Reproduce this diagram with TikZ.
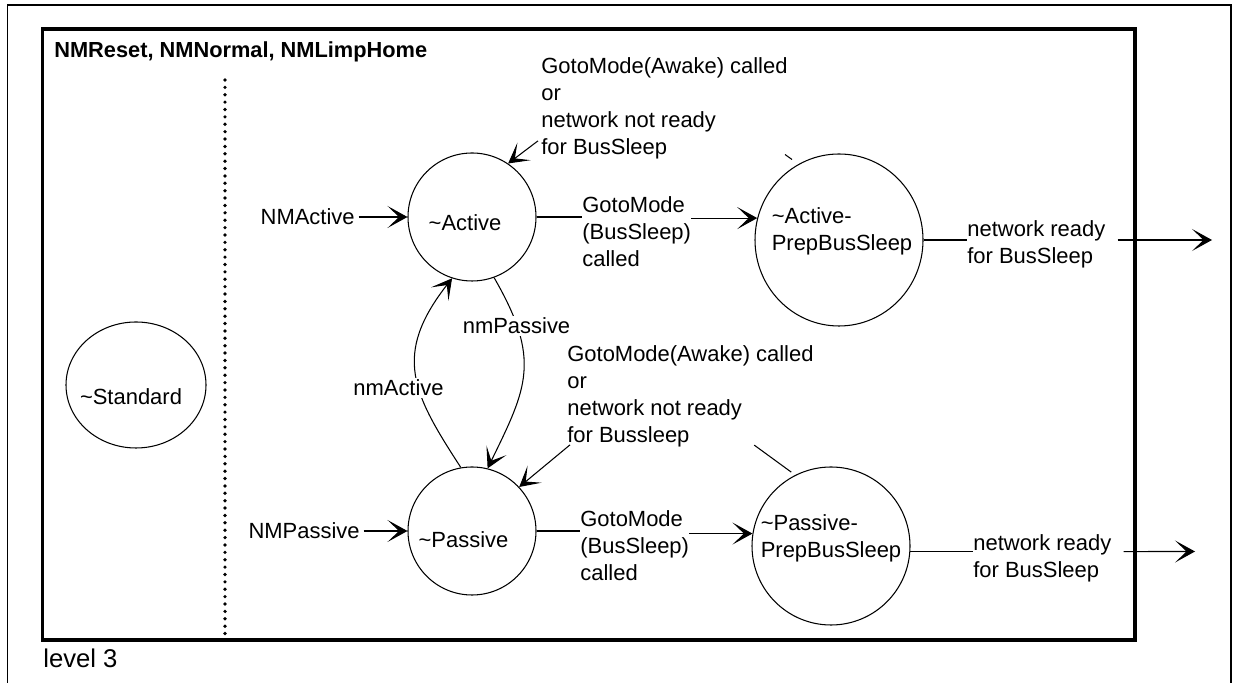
\documentclass[tikz,border=0pt]{standalone}
\usepackage{fontspec}
\setmainfont{Liberation Sans}
\usetikzlibrary{arrows.meta,positioning,calc,shapes.geometric}

\begin{document}
\begin{tikzpicture}[
  x=1cm,
  y=1cm,
  font=\fontsize{12.5}{15.4}\selectfont,
  >={Stealth[length=4mm,width=4.4mm,inset=2.3mm]},
  flow/.style={->, line width=0.6pt, draw=black},
  link/.style={line width=0.6pt, draw=black},
  state/.style={draw=black, line width=0.6pt, circle, inner sep=0pt, minimum size=25.6mm},
  prep/.style={draw=black, line width=0.6pt, ellipse, inner sep=0pt},
  cond/.style={anchor=north west, inner sep=0pt, align=left},
  entry/.style={anchor=east, inner sep=2pt},
  tag/.style={fill=white, inner sep=1pt},
  frame/.style={line width=2.1pt, draw=black}
]
\useasboundingbox (0,0) rectangle (24.66,13.66);

% frames and separator
\draw[line width=1.1pt] (0.15,0) |- (24.62,13.56) -- (24.62,0);
\draw[frame] (0.85,0.86) rectangle (22.70,13.08);
\draw[line width=2.1pt, line cap=round, dash pattern=on 0pt off 4.2pt] (4.50,12.06) -- (4.50,0.86);

\node[font=\fontsize{12.4}{14}\selectfont\bfseries, anchor=west, inner sep=0pt] (title)
  at (1.08,12.62) {NMReset, NMNormal, NMLimpHome};
\node[font=\fontsize{14.6}{17}\selectfont, anchor=west, inner sep=0pt] (level)
  at (0.86,0.50) {level 3};

% states
\node[prep, minimum width=28mm, minimum height=25.2mm,
  label={[xshift=-1mm, yshift=-2.4mm]center:\textasciitilde Standard}] (standard) at (2.72,5.96) {};
\node[state, label={[xshift=-1.4mm, yshift=-1.2mm]center:\textasciitilde Active}] (active) at (9.44,9.32) {};
\node[state, label={[xshift=-1.7mm, yshift=-1.8mm]center:\textasciitilde Passive}] (passive) at (9.44,3.04) {};
\node[prep, minimum width=33.6mm, minimum height=34.4mm,
  label={[align=left, xshift=0.6mm, yshift=1.8mm]center:{\textasciitilde Active-\\PrepBusSleep}}] (actprep) at (16.78,8.86) {};
\node[prep, minimum width=31.6mm, minimum height=31.6mm,
  label={[align=left, yshift=1.6mm]center:{\textasciitilde Passive-\\PrepBusSleep}}] (pasprep) at (16.62,2.74) {};

% conditions
\node[entry] (nmactive) at (7.17,9.32) {NMActive};
\node[entry] (nmpassive) at (7.27,3.04) {NMPassive};
\node[cond] (awakeA) at (10.82,12.52)
  {GotoMode(Awake) called\\or\\network not ready\\for BusSleep};
\node[cond] (awakeB) at (11.34,6.76)
  {GotoMode(Awake) called\\or\\network not ready\\for Bussleep};
\node[cond] (gmA) at (11.64,9.74) {GotoMode\\(BusSleep)\\called};
\node[cond] (gmB) at (11.60,3.46) {GotoMode\\(BusSleep)\\called};
\node[cond] (nrA) at (19.34,9.26) {network ready\\for BusSleep};
\node[cond] (nrB) at (19.46,2.98) {network ready\\for BusSleep};
\coordinate (exitA) at (24.24,8.86);
\coordinate (exitB) at (23.90,2.63);

% transitions
\draw[flow] (nmactive.east) -- (active.west);
\draw[flow] (nmpassive.east) -- (passive.west);
\draw[flow] ($(awakeA.south west)+(-0.06,0.37)$) -- (active.56);
\draw[flow] ($(awakeB.south west)+(0.06,0.05)$) -- (passive.43);
\draw[link] (active.east) -- (gmA.west |- active.east);
\draw[flow] (gmA.east |- actprep.165) -- (actprep.165);
\draw[link] (passive.east) -- (gmB.west |- passive.east);
\draw[flow] (gmB.east |- pasprep.171) -- (pasprep.171);
\draw[link] (actprep.east) -- (nrA.west |- actprep.east);
\draw[flow] ([xshift=2.4mm]nrA.east |- actprep.east) -- (exitA);
\draw[link] (pasprep.-4) -- (nrB.west |- pasprep.-4);
\draw[flow] ([xshift=2.4mm]nrB.east |- pasprep.-4) -- (exitB);
\draw[flow] (passive.100) .. controls +(123:1.76) and +(232:1.95) .. (active.252);
\draw[flow] (active.290) .. controls +(-60:1.9) and +(64:1.8) .. (passive.76);
\node[tag] (nmact) at (7.97,5.90) {nmActive};
\node[tag] (nmpas) at (10.33,7.14) {nmPassive};

% loose stubs
\draw[link] ($(actprep.120)+(-0.08,0.12)$) -- ++(-0.14,0.1);
\draw[link] ($(pasprep.120)+(0,0.1)$) -- ++(-0.74,0.54);

\end{tikzpicture}
\end{document}
